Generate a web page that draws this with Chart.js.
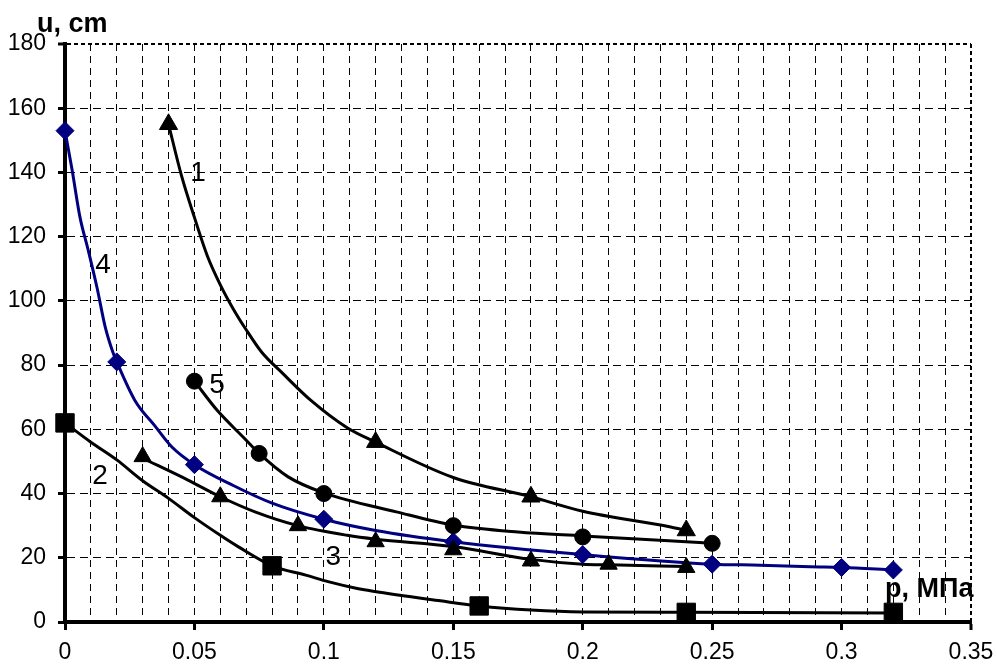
<!DOCTYPE html>
<html>
<head>
<meta charset="utf-8">
<script src="https://cdn.jsdelivr.net/npm/chart.js@4/dist/chart.umd.min.js"></script>
<style>
  html, body { margin: 0; padding: 0; background: #fff; }
  #wrap { width: 997px; height: 666px; position: relative; }
</style>
</head>
<body>
<div id="wrap"><canvas id="c" width="997" height="666"></canvas></div>
<script>
// ---------- DATA ----------
const xTickLabels = ['0', '0.05', '0.1', '0.15', '0.2', '0.25', '0.3', '0.35'];
const yTickLabels = ['0', '20', '40', '60', '80', '100', '120', '140', '160', '180'];
const xTitle = 'p, МПа';
const yTitle = 'u, cm';
const curveNames = ['1', '2', '3', '4', '5'];

// Curve 1 (triangles)
const c1LineP = [0.04, 0.045, 0.05, 0.055, 0.06, 0.065, 0.07, 0.076, 0.084, 0.095, 0.109, 0.12, 0.15, 0.18, 0.20, 0.234, 0.24];
const c1LineU = [155, 139, 126, 114, 105, 97.5, 91, 84, 77.5, 69, 60.5, 56, 45, 39, 34.5, 29.6, 28.5];
const c1MarkP = [0.04, 0.12, 0.18, 0.24];
const c1MarkU = [155, 56, 39, 28.5];

// Curve 2 (squares)
const c2LineP = [0, 0.01, 0.02, 0.03, 0.04, 0.05, 0.06, 0.067, 0.08, 0.093, 0.102, 0.112, 0.119, 0.145, 0.16, 0.18, 0.2, 0.24, 0.32];
const c2LineU = [62, 56, 50.5, 44, 38.5, 32.5, 27, 23.4, 17.5, 14.6, 12.5, 10.6, 9.6, 6.6, 5, 3.7, 3.1, 3, 2.8];
const c2MarkP = [0, 0.08, 0.16, 0.24, 0.32];
const c2MarkU = [62, 17.5, 5, 3, 3];

// Curve 3 (triangles)
const c3LineP = [0.03, 0.0475, 0.06, 0.0734, 0.09, 0.109, 0.12, 0.15, 0.18, 0.2, 0.21, 0.24];
const c3LineU = [51, 44.2, 39, 34.3, 30, 27, 25.8, 23.5, 19.5, 18, 17.8, 17.3];
const c3MarkP = [0.03, 0.06, 0.09, 0.12, 0.15, 0.18, 0.21, 0.24];
const c3MarkU = [51.5, 39, 30, 25, 22.5, 19, 18, 17];

// Curve 4 (blue diamonds)
const c4LineP = [0, 0.0027, 0.0058, 0.0089, 0.0124, 0.0155, 0.0185, 0.02, 0.027, 0.0348, 0.0413, 0.05, 0.065, 0.08, 0.1, 0.12, 0.15, 0.2, 0.25, 0.2686, 0.288, 0.3, 0.32];
const c4LineU = [153, 141, 126, 116, 104, 92, 84, 81, 69, 61, 54.5, 49, 42.5, 37, 32, 28.5, 25, 21, 18, 17.7, 17.2, 17, 16.2];
const c4MarkP = [0, 0.02, 0.05, 0.1, 0.15, 0.2, 0.25, 0.3, 0.32];
const c4MarkU = [153, 81, 49, 32, 25, 21, 18, 17, 16.2];

// Curve 5 (circles)
const c5LineP = [0.05, 0.0587, 0.0688, 0.075, 0.0862, 0.1, 0.128, 0.15, 0.175, 0.2, 0.25];
const c5LineU = [75, 66, 57.6, 52.5, 45.2, 40.2, 34.3, 30.2, 28, 26.8, 24.5];
const c5MarkP = [0.05, 0.075, 0.1, 0.15, 0.2, 0.25];
const c5MarkU = [75, 52.5, 40, 30, 26.5, 24.5];

// Curve number label anchors (data coordinates)
const labelP = [0.0514, 0.0135, 0.1036, 0.0147, 0.0587];
const labelU = [139.8, 45.5, 20.2, 111, 73.8];

// ---------- BUILD ----------
const pts = (P, U) => P.map((p, i) => ({ x: p, y: U[i] }));
const BLACK = '#000000';
const NAVY = '#000080';

function lineDs(P, U, color) {
  return {
    type: 'line', data: pts(P, U), borderColor: color, borderWidth: 3,
    pointRadius: 0, pointHoverRadius: 0, fill: false, clip: false,
    cubicInterpolationMode: 'monotone', order: 2
  };
}
function markDs(P, U, color, style, r) {
  return {
    type: 'line', data: pts(P, U), showLine: false, borderColor: color,
    backgroundColor: color, pointStyle: style, pointRadius: r, clip: false,
    pointBorderWidth: 1, pointHoverRadius: r, order: 1
  };
}

const datasets = [
  lineDs(c1LineP, c1LineU, BLACK),
  lineDs(c2LineP, c2LineU, BLACK),
  lineDs(c3LineP, c3LineU, BLACK),
  lineDs(c5LineP, c5LineU, BLACK),
  lineDs(c4LineP, c4LineU, NAVY),
  markDs(c1MarkP, c1MarkU, BLACK, 'triangle', 10.5),
  markDs(c2MarkP, c2MarkU, BLACK, 'rect', 13),
  markDs(c3MarkP, c3MarkU, BLACK, 'triangle', 10),
  markDs(c5MarkP, c5MarkU, BLACK, 'circle', 8),
  markDs(c4MarkP, c4MarkU, NAVY, 'rectRot', 9)
];

const textPlugin = {
  id: 'texts',
  afterDatasetsDraw(chart) {
    const ctx = chart.ctx;
    const xs = chart.scales.x, ys = chart.scales.y;
    ctx.save();
    ctx.fillStyle = '#000';
    ctx.textBaseline = 'middle';
    ctx.textAlign = 'center';
    ctx.font = '28px "Liberation Sans", Arial, sans-serif';
    curveNames.forEach((n, i) => {
      ctx.fillText(n, xs.getPixelForValue(labelP[i]), ys.getPixelForValue(labelU[i]));
    });
    ctx.font = 'bold 27px "Liberation Sans", Arial, sans-serif';
    ctx.textBaseline = 'alphabetic';
    ctx.textAlign = 'left';
    ctx.fillText(yTitle, 37, 32);
    ctx.fillText(xTitle, 885, 597);
    ctx.restore();
  }
};

const isMajorX = v => Math.round(v * 100) % 5 === 0;

new Chart(document.getElementById('c'), {
  type: 'line',
  data: { datasets },
  options: {
    responsive: false,
    animation: false,
    events: [],
    layout: { padding: { left: 0, right: 26, top: 44, bottom: 0 } },
    plugins: { legend: { display: false }, tooltip: { enabled: false } },
    scales: {
      x: {
        type: 'linear', min: 0, max: 0.35,
        afterFit: s => { s.height = 44; s.paddingRight = 0; s.paddingLeft = 0; },
        ticks: {
          stepSize: 0.01, autoSkip: false, maxRotation: 0, padding: 9,
          color: '#000',
          font: { family: '"Liberation Sans", Arial, sans-serif', size: 23 },
          callback: v => isMajorX(v) ? xTickLabels[Math.round(v * 100) / 5] : ''
        },
        grid: {
          color: '#000',
          lineWidth: c => (c.tick && Math.abs(c.tick.value - 0.35) < 1e-9) ? 2 : 1,
          tickLength: 8, tickWidth: 3,
          tickColor: c => (c.tick && isMajorX(c.tick.value)) ? '#000' : 'rgba(0,0,0,0)'
        },
        border: {
          display: true, color: '#000', width: 4,
          dash: c => (c.tick && Math.abs(c.tick.value - 0.35) < 1e-9) ? [4, 3] : [7, 5]
        }
      },
      y: {
        type: 'linear', min: 0, max: 180,
        afterFit: s => { s.width = 65; s.paddingTop = 0; s.paddingBottom = 0; },
        ticks: {
          stepSize: 20, padding: 12, color: '#000',
          font: { family: '"Liberation Sans", Arial, sans-serif', size: 23 },
          callback: v => yTickLabels[Math.round(v / 20)]
        },
        grid: {
          color: '#000',
          lineWidth: c => (c.tick && c.tick.value === 180) ? 2 : 1,
          tickLength: 7, tickWidth: 3, tickColor: '#000'
        },
        border: {
          display: true, color: '#000', width: 4,
          dash: c => (c.tick && c.tick.value === 180) ? [4, 3] : [8, 5]
        }
      }
    }
  },
  plugins: [textPlugin]
});
</script>
</body>
</html>
